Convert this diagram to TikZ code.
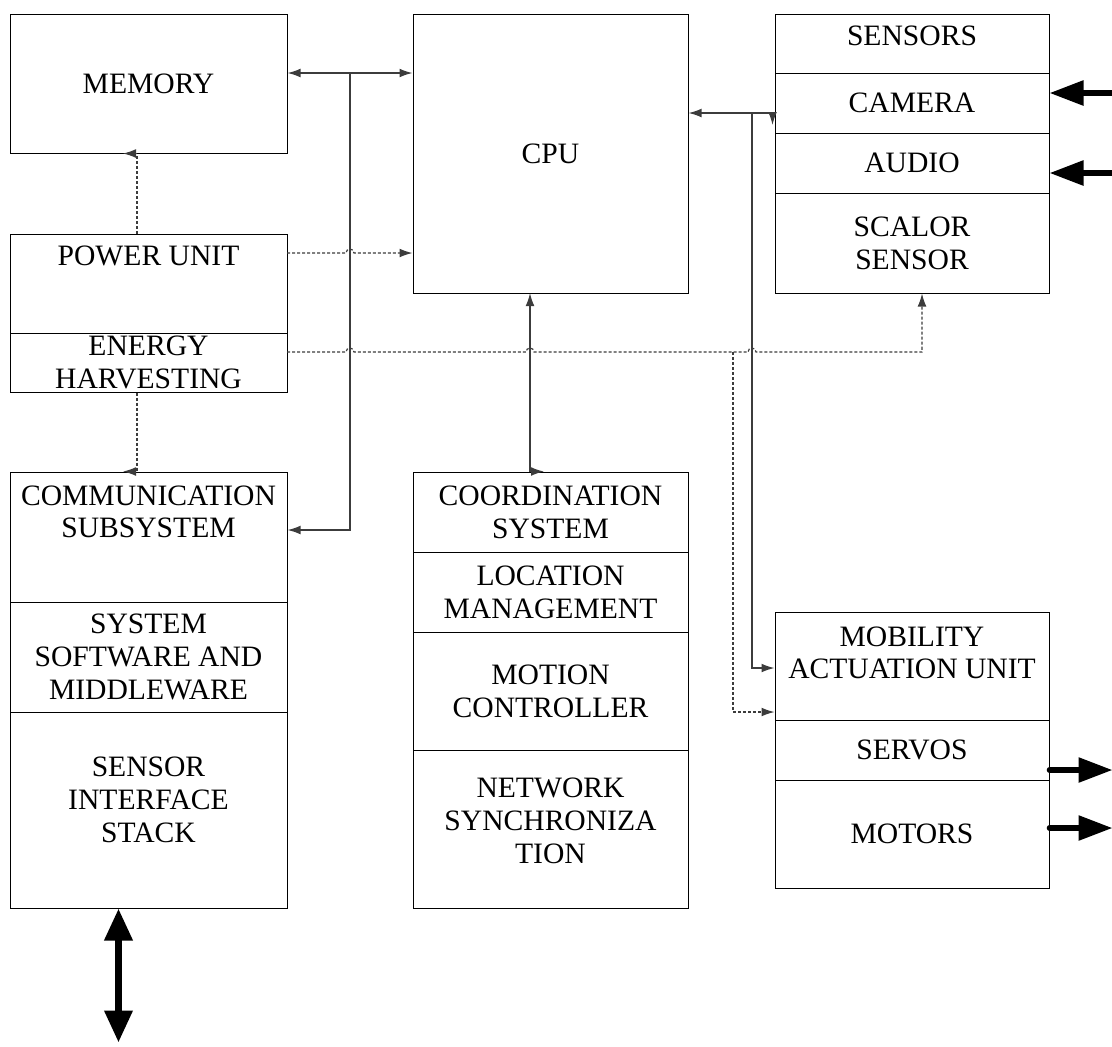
\documentclass[tikz,border=0pt]{standalone}
\usepackage{fontspec}
\setmainfont{Liberation Serif}
\usetikzlibrary{arrows.meta,positioning}
\definecolor{wire}{HTML}{3C3C3C}

\begin{document}
\begin{tikzpicture}[x=0.5pt,y=-0.5pt,>={Latex[length=6.5pt,width=4.4pt]},
    panel/.style={draw,line width=0.5pt,inner sep=0pt,align=center,
                  font=\fontsize{14.8}{16.4}\selectfont},
    lcol/.style={panel,minimum width=138.5pt},
    mcol/.style={panel,minimum width=137.5pt},
    rcol/.style={panel,minimum width=137pt},
    caption/.style={align=center,font=\fontsize{14.8}{16.4}\selectfont},
    link/.style={color=wire,line width=0.7pt},
    supply/.style={color=wire,line width=0.6pt,dash pattern=on 1.5pt off 1pt},
    bigarrow/.style={line width=2.8pt,line cap=round},
    fat/.tip={Triangle[length=17pt,width=12pt]}]
    \useasboundingbox (0,0) rectangle (1112,1046);
    % left column
    \node[lcol,minimum height=69.5pt] (memory) at (148.5,83.5) {MEMORY};
    \node[lcol,minimum height=49.5pt] (power) at (148.5,283.5) {};
    \node[caption,below=2.5pt of power.north] (powerlbl) {POWER UNIT};
    \node[lcol,minimum height=29.5pt] (energy) at (148.5,362.5) {ENERGY\\HARVESTING};
    \node[lcol,minimum height=65pt] (comm) at (148.5,537) {};
    \node[caption,below=3.5pt of comm.north] (commlbl) {COMMUNICATION\\SUBSYSTEM};
    \node[lcol,minimum height=55pt] (middleware) at (148.5,657) {SYSTEM\\SOFTWARE AND\\MIDDLEWARE};
    \node[lcol,minimum height=98pt] (stack) at (148.5,810) {};
    \node[caption] (stacklbl) at ([yshift=5pt]stack.center) {SENSOR\\INTERFACE\\STACK};
    % middle column
    \node[mcol,minimum height=139.5pt] (cpu) at (550.5,153.5) {CPU};
    \node[mcol,minimum height=40pt] (coord) at (550.5,512) {COORDINATION\\SYSTEM};
    \node[mcol,minimum height=40pt] (location) at (550.5,592) {LOCATION\\MANAGEMENT};
    \node[mcol,minimum height=59pt] (motion) at (550.5,691) {MOTION\\CONTROLLER};
    \node[mcol,minimum height=79pt] (netsync) at (550.5,829) {};
    \node[caption] (netsynclbl) at ([yshift=4pt]netsync.center) {NETWORK\\SYNCHRONIZA\\TION};
    % right column
    \node[rcol,minimum height=29.5pt] (sensors) at (912,43.5) {};
    \node[caption,below=2.5pt of sensors.north] (sensorslbl) {SENSORS};
    \node[rcol,minimum height=30pt] (camera) at (912,103) {CAMERA};
    \node[rcol,minimum height=30pt] (audio) at (912,163) {AUDIO};
    \node[rcol,minimum height=50pt] (scalor) at (912,243) {SCALOR\\SENSOR};
    \node[rcol,minimum height=54pt] (mobility) at (912,666) {};
    \node[caption,below=4pt of mobility.north] (mobilitylbl) {MOBILITY\\ACTUATION UNIT};
    \node[rcol,minimum height=30pt] (servos) at (912,750) {SERVOS};
    \node[rcol,minimum height=54pt] (motors) at (912,834) {MOTORS};
    % junctions
    \coordinate (bus) at (350,73);
    \coordinate (busend) at (350,530);
    \coordinate (pwrline) at (287,253);
    \coordinate (egyline) at (287,352);
    \coordinate (egycorner) at (922,352);
    \coordinate (egytap) at (733,352);
    \coordinate (egyend) at (733,712);
    \coordinate (ctl) at (530,293);
    \coordinate (snsline) at (752,113);
    \coordinate (snsend) at (752,668);
    % solid links
    \draw[link,<->] (memory.east |- bus) -- (cpu.west |- bus);
    \draw[link,->] (bus) -- (busend) -- (comm.east |- busend);
    \draw[link,<->] (ctl) -- (coord.north -| ctl) -- ++(14,0);
    \draw[link,->] (camera.west |- snsline) -- (cpu.east |- snsline);
    \draw[link,->] ([xshift=-1pt]camera.west |- snsline) -- ++(0,12);
    \draw[link,->] (snsline) -- (snsend) -- (mobility.west |- snsend);
    % supply lines
    \draw[supply,->] (pwrline) -- (346,253) arc[start angle=180,end angle=0,radius=2pt]
        -- (cpu.west |- pwrline);
    \draw[supply,->] ([xshift=-5.75pt]power.north) -- ([xshift=-5.75pt]memory.south) -- ++(-14,0);
    \draw[supply,->] ([xshift=-5.75pt]energy.south) -- ([xshift=-5.75pt]comm.north) -- ++(-14,0);
    \draw[supply,->] (egyline) -- (346,352) arc[start angle=180,end angle=0,radius=2pt]
        -- (526,352) arc[start angle=180,end angle=0,radius=2pt]
        -- (748,352) arc[start angle=180,end angle=0,radius=2pt]
        -- (egycorner) -- (scalor.south -| egycorner);
    \draw[supply,->] (egytap) -- (egyend) -- (mobility.west |- egyend);
    % external arrows
    \draw[bigarrow,fat-] ([yshift=5pt]camera.east) -- ++(64,0);
    \draw[bigarrow,fat-] ([yshift=-5pt]audio.east) -- ++(64,0);
    \draw[bigarrow,-fat] ([yshift=-10pt]servos.east) -- ++(63,0);
    \draw[bigarrow,-fat] ([yshift=3pt]motors.east) -- ++(63,0);
    \draw[bigarrow,line width=3.4pt,{Triangle[length=16pt,width=13.5pt]}-{Triangle[length=16pt,width=13.5pt]}]
        ([xshift=-15pt]stack.south) -- ++(0,134);
\end{tikzpicture}
\end{document}
